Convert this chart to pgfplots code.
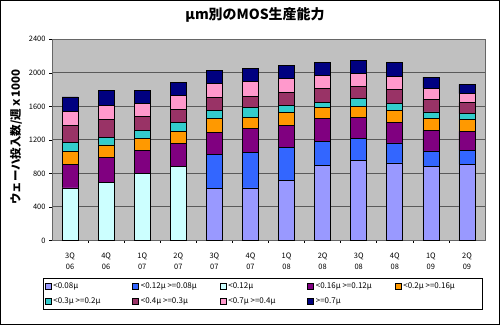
\documentclass[border=0pt]{standalone}
\usepackage{pgfplots}
\pgfplotsset{compat=1.18}
\usepackage{fontspec}
\setmainfont{Noto Sans CJK JP}

\definecolor{cLav}{HTML}{9999FF}
\definecolor{cBlue}{HTML}{3366FF}
\definecolor{cCyan}{HTML}{CCFFFF}
\definecolor{cPurp}{HTML}{800080}
\definecolor{cOrng}{HTML}{FF9900}
\definecolor{cTeal}{HTML}{33CCCC}
\definecolor{cMauv}{HTML}{993366}
\definecolor{cPink}{HTML}{FF99CC}
\definecolor{cNavy}{HTML}{000080}
\definecolor{cBack}{HTML}{C0C0C0}
\definecolor{cGrid}{HTML}{5A5A5A}

\newcommand{\legtxt}[1]{\makebox[76bp][l]{#1}}

\begin{document}
\begin{tikzpicture}
\useasboundingbox (0,0) rectangle (500bp,325bp);
\fill[white] (0,0) rectangle (500bp,325bp);
\begin{axis}[
  at={(52bp,84.5bp)}, anchor=south west,
  scale only axis, width=433bp, height=201.2bp,
  ybar stacked, bar width=16bp,
  xmin=-0.5, xmax=11.5, ymin=0, ymax=2400,
  ytick={0,400,...,2400},
  xtick={0,...,11},
  xticklabels={{3Q\\06},{4Q\\06},{1Q\\07},{2Q\\07},{3Q\\07},{4Q\\07},{1Q\\08},{2Q\\08},{3Q\\08},{4Q\\08},{1Q\\09},{2Q\\09}},
  xticklabel style={align=center, font=\fontsize{7.5}{11}\selectfont, yshift=-6bp},
  yticklabel style={font=\fontsize{7.5}{8}\selectfont},
  major x tick style={draw=none},
  minor xtick={0.5,1.5,...,10.5},
  minor tick length=2.5bp,
  major tick length=3bp,
  tick style={draw=black, line width=0.6bp},
  ytick pos=left, xtick pos=bottom,
  tick align=outside,
  /pgf/number format/assume math mode=true,
  /pgf/number format/1000 sep={},
  axis background/.style={fill=cBack},
  ymajorgrids,
  grid style={draw=cGrid, line width=1bp},
  axis line style={draw=black!60, line width=0.8bp},
  every axis plot/.append style={draw=black, line width=0.7bp},
  legend columns=5,
  legend cell align=left,
  legend image code/.code={\draw[#1,draw=black,line width=0.5bp] (0bp,-3bp) rectangle (6bp,3bp);},
  legend style={at={(axis description cs:-0.0208,-0.186)}, anchor=north west,
    draw=black, line width=0.8bp, font=\fontsize{8}{9}\selectfont,
    inner xsep=1.5bp, inner ysep=2.5bp, row sep=3.5bp,
    /tikz/every even column/.append style={column sep=1bp}},
]
% <0.08
\addplot[fill=cLav] coordinates {(0,0) (1,0) (2,0) (3,0) (4,621) (5,628) (6,716) (7,898) (8,954) (9,926) (10,887) (11,907)};
% <0.12 >=0.08
\addplot[fill=cBlue] coordinates {(0,0) (1,0) (2,0) (3,0) (4,405) (5,422) (6,393) (7,286) (8,262) (9,238) (10,182) (11,170)};
% <0.12
\addplot[fill=cCyan] coordinates {(0,627) (1,691) (2,797) (3,885) (4,0) (5,0) (6,0) (7,0) (8,0) (9,0) (10,0) (11,0)};
% <0.16 >=0.12
\addplot[fill=cPurp] coordinates {(0,280) (1,296) (2,276) (3,272) (4,262) (5,285) (6,265) (7,270) (8,250) (9,243) (10,246) (11,226)};
% <0.2 >=0.16
\addplot[fill=cOrng] coordinates {(0,158) (1,153) (2,145) (3,142) (4,166) (5,138) (6,152) (7,131) (8,135) (9,146) (10,139) (11,139)};
% <0.3 >=0.2
\addplot[fill=cTeal] coordinates {(0,106) (1,90) (2,92) (3,106) (4,99) (5,112) (6,86) (7,67) (8,91) (9,87) (10,79) (11,72)};
% <0.4 >=0.3
\addplot[fill=cMauv] coordinates {(0,198) (1,218) (2,165) (3,159) (4,151) (5,135) (6,159) (7,159) (8,147) (9,159) (10,147) (11,131)};
% <0.7 >=0.4
\addplot[fill=cPink] coordinates {(0,169) (1,166) (2,162) (3,169) (4,167) (5,182) (6,159) (7,158) (8,151) (9,162) (10,138) (11,107)};
% >=0.7
\addplot[fill=cNavy] coordinates {(0,174) (1,177) (2,154) (3,154) (4,162) (5,147) (6,158) (7,159) (8,158) (9,160) (10,131) (11,110)};
\legend{\legtxt{<0.08μ},\legtxt{<0.12μ >=0.08μ},\legtxt{<0.12μ},\legtxt{<0.16μ >=0.12μ},\legtxt{<0.2μ >=0.16μ},\legtxt{<0.3μ >=0.2μ},\legtxt{<0.4μ >=0.3μ},\legtxt{<0.7μ >=0.4μ},\legtxt{>=0.7μ}}
\end{axis}
\node[font=\fontsize{14}{16}\selectfont\bfseries] at (255bp,310bp) {μm別のMOS生産能力};
\node[rotate=90, font=\fontsize{11.5}{13}\selectfont\bfseries] at (16bp,188bp) {ウェーハ投入数/週ｘ1000};
\draw[black, line width=1bp] (0.5bp,0.5bp) rectangle (499.5bp,324.5bp);
\end{tikzpicture}
\end{document}
